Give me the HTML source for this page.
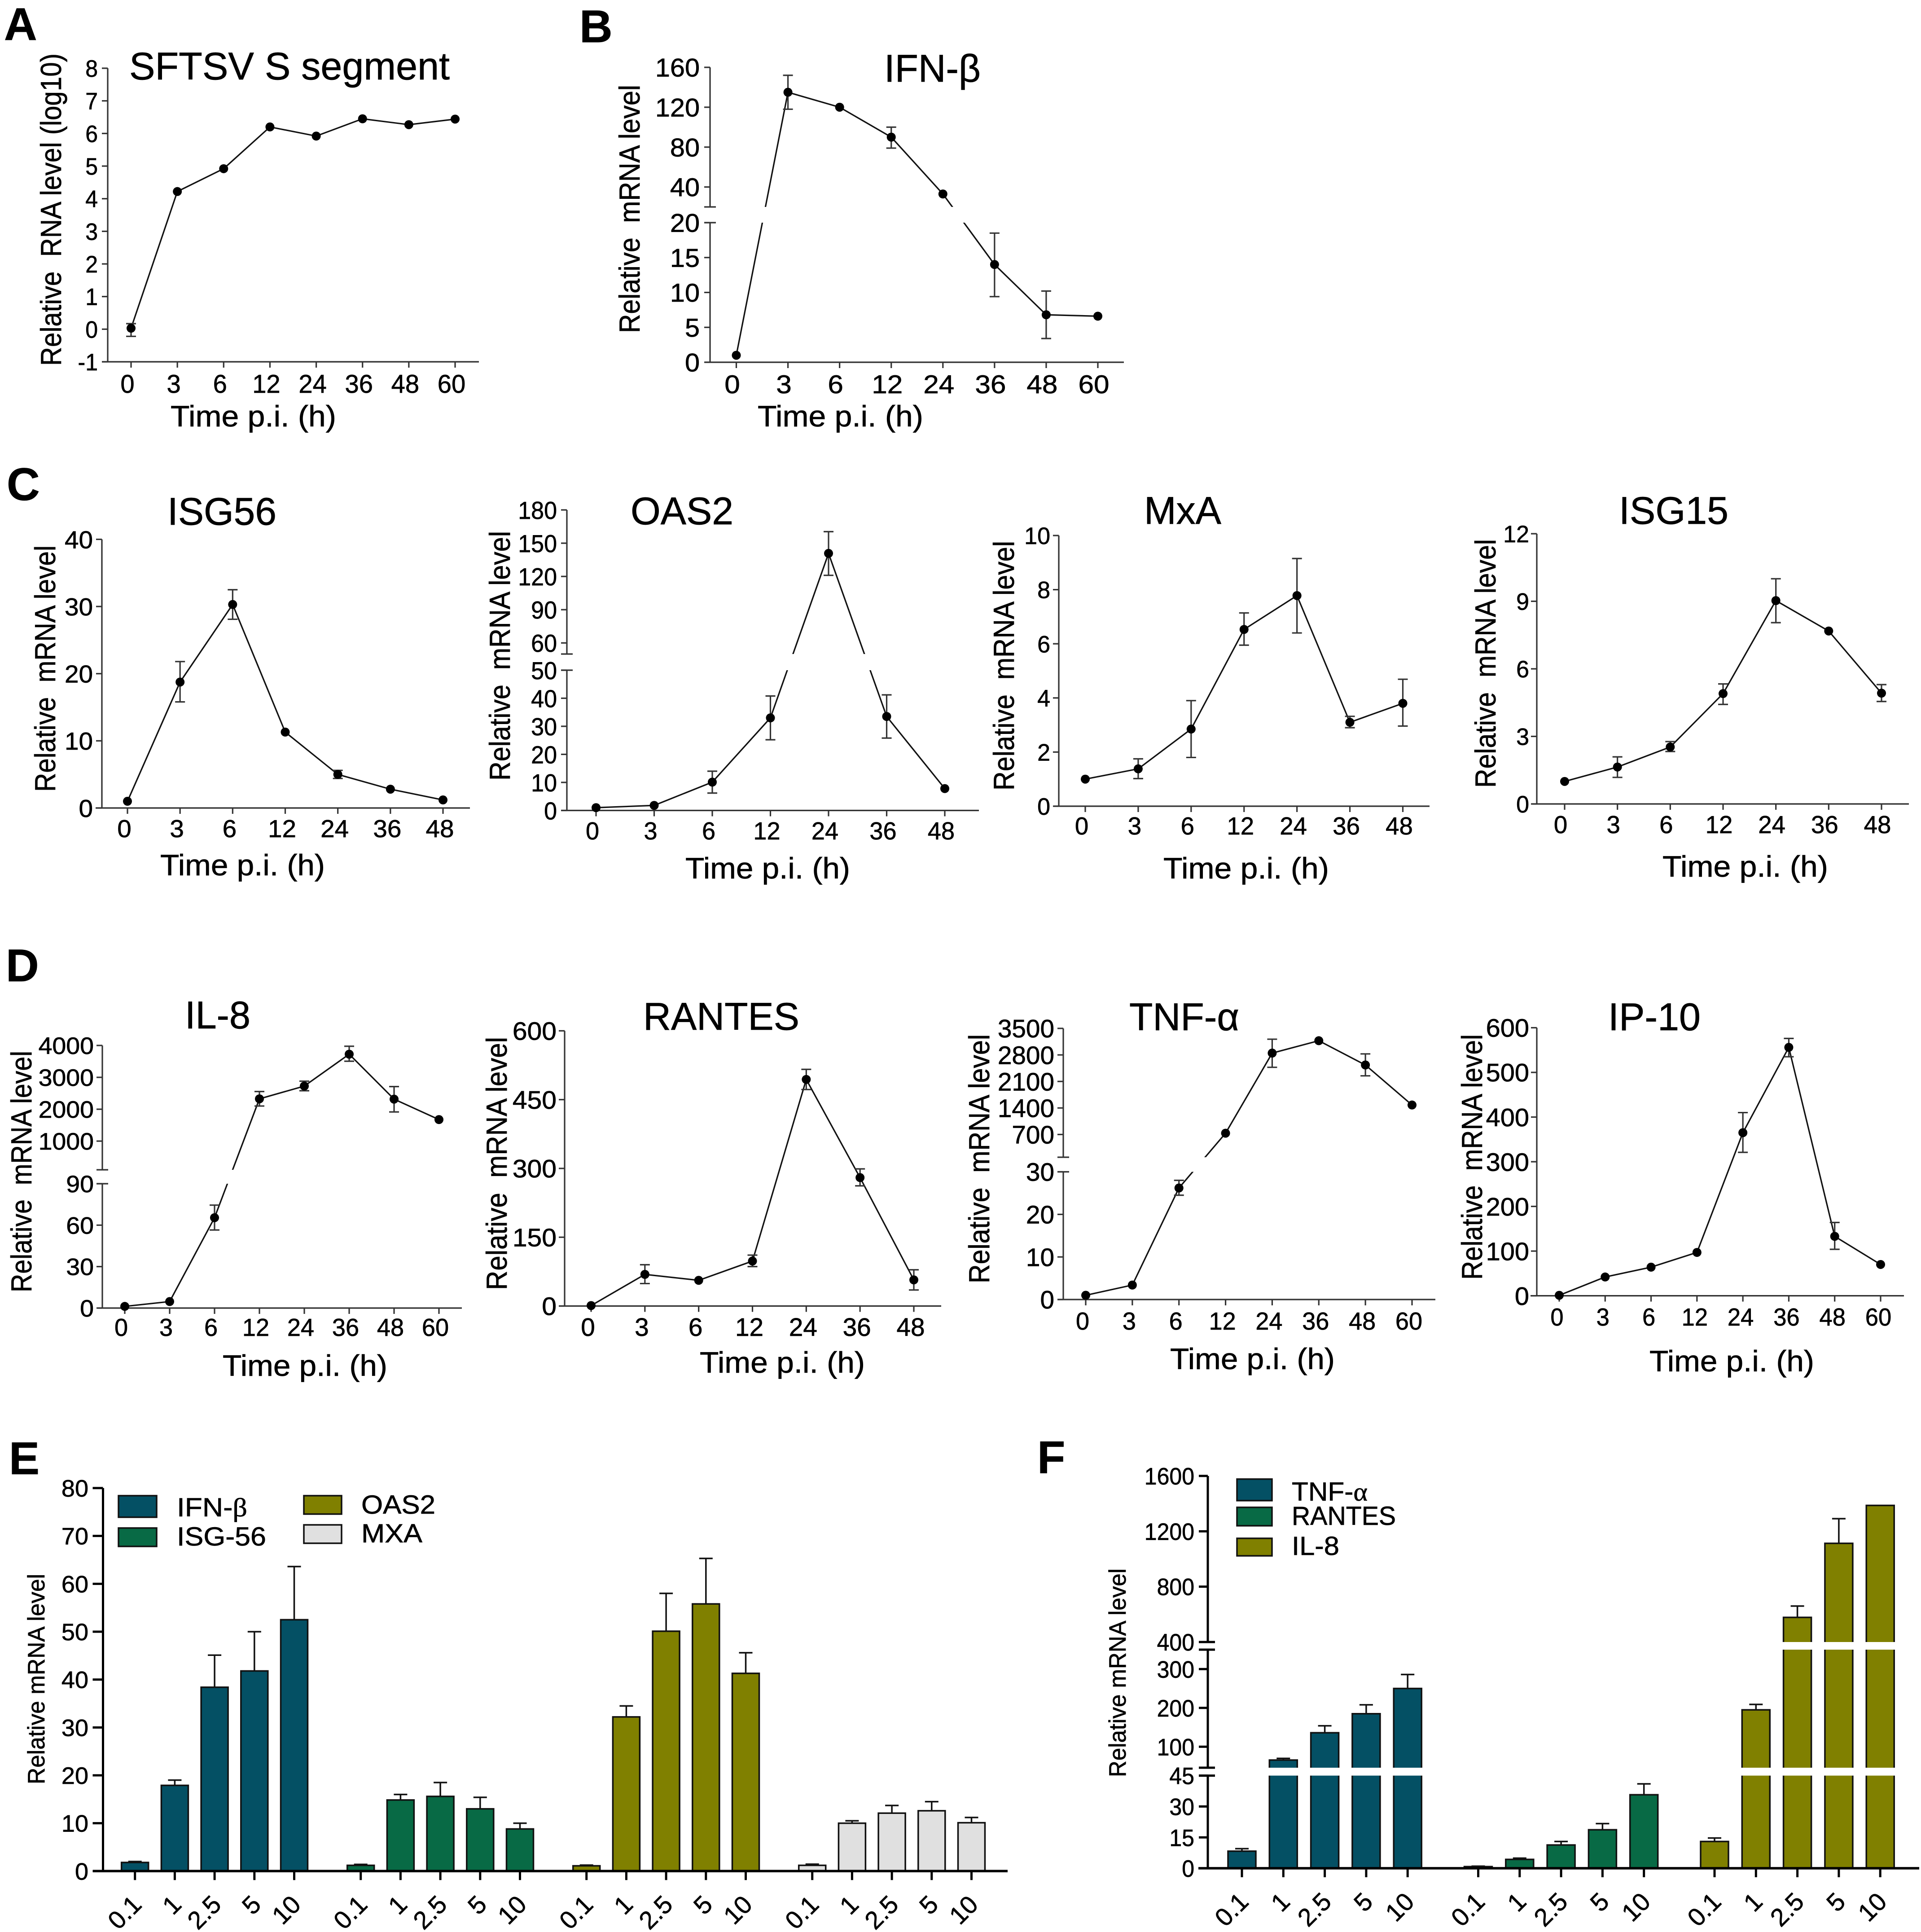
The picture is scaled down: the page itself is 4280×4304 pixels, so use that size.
<!DOCTYPE html>
<html lang="en">
<head>
<meta charset="utf-8">
<title>SFTSV infection time course and dose response panels</title>
<style>
html,body{margin:0;padding:0;background:#fff;}
svg{display:block;}
text{font-family:"Liberation Sans",Arial,sans-serif;fill:#000;white-space:pre;stroke:#000;stroke-width:.7px;}
.letter{font-size:102px;font-weight:bold;}
.title{font-size:86px;}
.xt{font-size:66px;}
.yt{font-size:65px;}
.yb{font-size:53px;}
.lg{font-size:58px;}
.greek{font-family:"Liberation Serif",serif;}
</style>
</head>
<body>
<svg id="fig" width="4280" height="4304" viewBox="0 0 4280 4304">
<rect width="4280" height="4304" fill="#fff"/>

<g id="panelA"></g>
<g id="panelB"></g>
<g id="panelC1"></g>
<g id="panelC2"></g>
<g id="panelC3"></g>
<g id="panelC4"></g>
<g id="panelD1"></g>
<g id="panelD2"></g>
<g id="panelD3"></g>
<g id="panelD4"></g>
<g id="panelE"></g>
<g id="panelF"></g>

<text class="letter" x="9" y="89">A</text>
<text class="letter" x="1291" y="94">B</text>
<text class="letter" x="15" y="1114">C</text>
<text class="letter" x="13" y="2186">D</text>
<text class="letter" x="20" y="3284">E</text>
<text class="letter" x="2311" y="3282">F</text>

<text class="title" x="288" y="177" textLength="714" lengthAdjust="spacingAndGlyphs">SFTSV S segment</text>
<text class="title" x="1970" y="182" textLength="215" lengthAdjust="spacingAndGlyphs">IFN-β</text>
<text class="title" x="373" y="1169" textLength="243" lengthAdjust="spacingAndGlyphs">ISG56</text>
<text class="title" x="1405" y="1168" textLength="229" lengthAdjust="spacingAndGlyphs">OAS2</text>
<text class="title" x="2549" y="1167" textLength="172" lengthAdjust="spacingAndGlyphs">MxA</text>
<text class="title" x="3607" y="1167" textLength="244" lengthAdjust="spacingAndGlyphs">ISG15</text>
<text class="title" x="412" y="2291" textLength="146" lengthAdjust="spacingAndGlyphs">IL-8</text>
<text class="title" x="1433" y="2294" textLength="348" lengthAdjust="spacingAndGlyphs">RANTES</text>
<text class="title" x="2516" y="2295" textLength="245" lengthAdjust="spacingAndGlyphs">TNF-α</text>
<text class="title" x="3583" y="2295" textLength="206" lengthAdjust="spacingAndGlyphs">IP-10</text>

<text class="xt" x="380" y="950" textLength="369" lengthAdjust="spacingAndGlyphs">Time p.i. (h)</text>
<text class="xt" x="1688" y="950" textLength="369" lengthAdjust="spacingAndGlyphs">Time p.i. (h)</text>
<text class="xt" x="357" y="1950" textLength="367" lengthAdjust="spacingAndGlyphs">Time p.i. (h)</text>
<text class="xt" x="1527" y="1957" textLength="367" lengthAdjust="spacingAndGlyphs">Time p.i. (h)</text>
<text class="xt" x="2592" y="1957" textLength="369" lengthAdjust="spacingAndGlyphs">Time p.i. (h)</text>
<text class="xt" x="3704" y="1953" textLength="369" lengthAdjust="spacingAndGlyphs">Time p.i. (h)</text>
<text class="xt" x="496" y="3065" textLength="367" lengthAdjust="spacingAndGlyphs">Time p.i. (h)</text>
<text class="xt" x="1559" y="3058" textLength="368" lengthAdjust="spacingAndGlyphs">Time p.i. (h)</text>
<text class="xt" x="2607" y="3050" textLength="367" lengthAdjust="spacingAndGlyphs">Time p.i. (h)</text>
<text class="xt" x="3675" y="3055" textLength="367" lengthAdjust="spacingAndGlyphs">Time p.i. (h)</text>

<text class="yt" transform="translate(136,815) rotate(-90)" textLength="696" lengthAdjust="spacingAndGlyphs">Relative  RNA level (log10)</text>
<text class="yt" transform="translate(1425,742) rotate(-90)" textLength="553" lengthAdjust="spacingAndGlyphs">Relative  mRNA level</text>
<text class="yt" transform="translate(123,1764) rotate(-90)" textLength="549" lengthAdjust="spacingAndGlyphs">Relative  mRNA level</text>
<text class="yt" transform="translate(1136,1739) rotate(-90)" textLength="556" lengthAdjust="spacingAndGlyphs">Relative  mRNA level</text>
<text class="yt" transform="translate(2259,1761) rotate(-90)" textLength="556" lengthAdjust="spacingAndGlyphs">Relative  mRNA level</text>
<text class="yt" transform="translate(3332,1755) rotate(-90)" textLength="554" lengthAdjust="spacingAndGlyphs">Relative  mRNA level</text>
<text class="yt" transform="translate(70,2879) rotate(-90)" textLength="538" lengthAdjust="spacingAndGlyphs">Relative  mRNA level</text>
<text class="yt" transform="translate(1129,2874) rotate(-90)" textLength="564" lengthAdjust="spacingAndGlyphs">Relative  mRNA level</text>
<text class="yt" transform="translate(2204,2859) rotate(-90)" textLength="555" lengthAdjust="spacingAndGlyphs">Relative  mRNA level</text>
<text class="yt" transform="translate(3302,2851) rotate(-90)" textLength="547" lengthAdjust="spacingAndGlyphs">Relative  mRNA level</text>
<text class="yb" transform="translate(99,3975) rotate(-90)" textLength="469" lengthAdjust="spacingAndGlyphs">Relative mRNA level</text>
<text class="yb" transform="translate(2508,3959) rotate(-90)" textLength="465" lengthAdjust="spacingAndGlyphs">Relative mRNA level</text>

<g>
  <g>
    <rect x="264" y="3332" width="85" height="48" fill="#045064" stroke="#111" stroke-width="3.5"/>
    <text class="lg" x="394" y="3378" textLength="157" lengthAdjust="spacingAndGlyphs">IFN-<tspan class="greek">β</tspan></text>
  </g>
  <g>
    <rect x="264" y="3404" width="85" height="41" fill="#086a45" stroke="#111" stroke-width="3.5"/>
    <text class="lg" x="394" y="3443" textLength="199" lengthAdjust="spacingAndGlyphs">ISG-56</text>
  </g>
  <g>
    <rect x="677" y="3332" width="84" height="41" fill="#808000" stroke="#111" stroke-width="3.5"/>
    <text class="lg" x="805" y="3372" textLength="165" lengthAdjust="spacingAndGlyphs">OAS2</text>
  </g>
  <g>
    <rect x="677" y="3397" width="84" height="41" fill="#e0e0e0" stroke="#111" stroke-width="3.5"/>
    <text class="lg" x="805" y="3436" textLength="136" lengthAdjust="spacingAndGlyphs">MXA</text>
  </g>
</g>
<g>
  <g>
    <rect x="2756" y="3295" width="78" height="48" fill="#045064" stroke="#111" stroke-width="3.5"/>
    <text class="lg" x="2878" y="3343" textLength="169" lengthAdjust="spacingAndGlyphs">TNF-<tspan class="greek">α</tspan></text>
  </g>
  <g>
    <rect x="2756" y="3358" width="78" height="41" fill="#086a45" stroke="#111" stroke-width="3.5"/>
    <text class="lg" x="2878" y="3397" textLength="232" lengthAdjust="spacingAndGlyphs">RANTES</text>
  </g>
  <g>
    <rect x="2756" y="3427" width="78" height="39" fill="#808000" stroke="#111" stroke-width="3.5"/>
    <text class="lg" x="2878" y="3464" textLength="106" lengthAdjust="spacingAndGlyphs">IL-8</text>
  </g>
</g>
</svg>

<script>
// ---------- Data ----------
const hours8 = ['0','3','6','12','24','36','48','60'];
const hours7 = ['0','3','6','12','24','36','48'];

const aValues = [0.03,4.22,4.92,6.2,5.92,6.45,6.27,6.44];
const aErrHigh = [0.17,null,null,null,null,null,null,null];
const aErrLow = [-0.22,null,null,null,null,null,null,null];
const aTicks = [-1,0,1,2,3,4,5,6,7,8];

const bValues = [1,135,120,90,33,14,6.8,6.6];
const bErrHigh = [null,152,null,100,null,18.5,10.2,null];
const bErrLow = [null,118,null,79,null,9.4,3.4,null];
const bTicks = [0,5,10,15,20,40,80,120,160];

const isg56Values = [1,18.75,30.3,11.3,5,2.8,1.2];
const isg56ErrHigh = [null,21.8,32.5,null,5.6,null,null];
const isg56ErrLow = [null,15.8,28.1,null,4.4,null,null];
const isg56Ticks = [0,10,20,30,40];

const oas2Values = [1,1.8,10.1,33,140.8,33.5,7.8];
const oas2ErrHigh = [null,null,14,40.8,160.4,41.2,null];
const oas2ErrLow = [null,null,6.2,25.2,121,25.8,null];
const oas2Ticks = [0,10,20,30,40,50,60,90,120,150,180];

const mxaValues = [1,1.38,2.85,6.53,7.78,3.1,3.8];
const mxaErrHigh = [null,1.75,3.9,7.14,9.15,3.32,4.69];
const mxaErrLow = [null,1.02,1.8,5.95,6.4,2.9,2.96];
const mxaTicks = [0,2,4,6,8,10];

const isg15Values = [1,1.64,2.53,4.9,9.03,7.68,4.92];
const isg15ErrHigh = [null,2.09,2.77,5.33,10,null,5.3];
const isg15ErrLow = [null,1.18,2.33,4.42,8.05,null,4.55];
const isg15Ticks = [0,3,6,9,12];

const il8Values = [1.2,4.7,65.4,2325,2726,3726,2316,1675];
const il8ErrHigh = [null,null,74.5,2555,2880,3975,2710,null];
const il8ErrLow = [null,null,56.5,2100,2580,3505,1915,null];
const il8Ticks = [0,30,60,90,1000,2000,3000,4000];

const rantesValues = [1,69,56,98,494,280,57];
const rantesErrHigh = [null,90,null,111,516,299,79];
const rantesErrLow = [null,49,null,86,472,262,35];
const rantesTicks = [0,150,300,450,600];

const tnfValues = [1,3.4,26.2,734,2848,3175,2534,1478];
const tnfErrHigh = [null,null,28,null,3215,null,2827,null];
const tnfErrLow = [null,null,24.5,null,2473,null,2248,null];
const tnfTicks = [0,10,20,30,700,1400,2100,2800,3500];

const ip10Values = [1,42,64,97,365,556,133,70];
const ip10ErrHigh = [null,null,null,null,410,576,164,null];
const ip10ErrLow = [null,null,null,null,321,535,104,null];
const ip10Ticks = [0,100,200,300,400,500,600];

const doses = ['0.1','1','2.5','5','10'];

const eIfnValues = [1.8,17.9,38.4,41.8,52.5];
const eIfnErr = [2,19,45.1,50,63.6];
const eIsgValues = [1.2,14.85,15.6,13,8.8];
const eIsgErr = [1.4,16,18.5,15.4,10];
const eOasValues = [1.1,32.2,50.1,55.8,41.3];
const eOasErr = [1.25,34.5,58,65.3,45.6];
const eMxaValues = [1.2,10,12.1,12.6,10.1];
const eMxaErr = [1.45,10.5,13.7,14.5,11.2];
const eTicks = [0,10,20,30,40,50,60,70,80];

const fTnfValues = [8.3,65.7,136,185,250];
const fTnfErr = [9.5,70,154,208,286];
const fRantesValues = [0.8,4.3,11.3,18.7,35.7];
const fRantesErr = [1,4.9,13,21.7,41];
const fIl8Values = [13,195,578,1113,1387];
const fIl8Err = [14.7,209,660,1291,null];
const fTicks = [0,15,30,45,100,200,300,400,800,1200,1600];

// ---------- Drawing helpers ----------
const svg = document.getElementById('fig');
const INK = '#111';
const GROW = 1.06;

function mk(parent, type, attrs) {
  const el = document.createElementNS(svg.namespaceURI, type);
  for (const k in attrs) el.setAttribute(k, attrs[k]);
  parent.appendChild(el);
  return el;
}

function makeY(segs) {
  return function (v) {
    for (let i = 0; i < segs.length; i++) {
      const s = segs[i];
      if (v <= s.d[1] || i === segs.length - 1) {
        return s.r[0] + (v - s.d[0]) / (s.d[1] - s.d[0]) * (s.r[1] - s.r[0]);
      }
    }
  };
}

function yAxis(root, c, y, width) {
  c.segs.forEach(function (s, i) {
    const spine = mk(root, 'line', {x1: c.axisX, x2: c.axisX, y1: s.r[0], y2: s.r[1], stroke: c.axisColor, 'stroke-width': width});
    
    
    if (i < c.segs.length - 1) {
      const next = c.segs[i + 1];
      [s.r[1], next.r[0]].forEach(function (py) {
        const cap = mk(root, 'line', {x1: c.axisX - c.tick, x2: c.axisX + c.capR, y1: py, y2: py, stroke: c.axisColor, 'stroke-width': width});
        
        
      });
    }
  });
  const fs = c.fsY * GROW;
  c.yTicks.forEach(function (v) {
    const py = y(v);
    const t = mk(root, 'line', {x1: c.axisX - c.tick, x2: c.axisX, y1: py, y2: py, stroke: c.axisColor, 'stroke-width': width});
    
    
    const lab = mk(root, 'text', {'text-anchor': 'end', 'font-size': fs,
      transform: 'translate(' + c.labelRight + ',' + (py + fs * 0.36) + ') scale(' + (c.hsY / GROW) + ',1)'});
    lab.textContent = String(v);
    
    
  });
}

function breakBands(root, c, inset) {
  for (let i = 0; i < c.segs.length - 1; i++) {
    const upperBottom = c.segs[i + 1].r[0];
    const lowerTop = c.segs[i].r[1];
    const band = mk(root, 'rect', {x: c.axisX + inset, y: upperBottom, width: c.xRight - c.axisX - inset + 4,
      height: lowerTop - upperBottom, fill: '#fff'});
    
    
  }
}

function drawLineChart(c) {
  const root = document.getElementById(c.id);
  c.axisColor = '#333';
  c.tick = 13;
  c.capR = 13;
  const y = makeY(c.segs);
  const n = c.cats.length;
  const x = function (i) { return c.x0 + i * (c.xN - c.x0) / (n - 1); };

  const line = mk(root, 'polyline', {
    points: c.values.map(function (v, i) { return x(i) + ',' + y(v); }).join(' '),
    fill: 'none', stroke: INK, 'stroke-width': 3.2
  });
  
  
  breakBands(root, c, 14);

  const yBottom = y(c.segs[0].d[0]);
  const xLine = mk(root, 'line', {x1: c.xLeft, x2: c.xRight, y1: yBottom, y2: yBottom, stroke: c.axisColor, 'stroke-width': 3.2});
  
  
  yAxis(root, c, y, 3.2);

  const fsX = c.fsX * GROW;
  c.cats.forEach(function (cat, i) {
    const px = x(i);
    const t = mk(root, 'line', {x1: px, x2: px, y1: yBottom, y2: yBottom + 13, stroke: c.axisColor, 'stroke-width': 3.2});
    
    
    const lab = mk(root, 'text', {'text-anchor': 'middle', 'font-size': fsX,
      transform: 'translate(' + (px + c.labelDx) + ',' + (c.xLabelY + 1) + ') scale(' + (c.hsX / GROW) + ',1)'});
    lab.textContent = cat;
    
    

    if (c.hi[i] !== null) {
      const yh = y(c.hi[i]), yl = y(c.lo[i]);
      const err = mk(root, 'path', {
        d: 'M' + (px - 11) + ' ' + yh + 'H' + (px + 11) + 'M' + px + ' ' + yh + 'V' + yl + 'M' + (px - 11) + ' ' + yl + 'H' + (px + 11),
        fill: 'none', stroke: c.axisColor, 'stroke-width': 3.2
      });
      
      
    }
    const dot = mk(root, 'circle', {cx: px, cy: y(c.values[i]), r: 10, fill: '#000'});
    
    
  });
}

function drawBarChart(c) {
  const root = document.getElementById(c.id);
  c.axisColor = '#000';
  c.capR = 16;
  const y = makeY(c.segs);
  const yBottom = y(c.segs[0].d[0]);

  c.series.forEach(function (s, g) {
    s.values.forEach(function (v, j) {
      const px = c.x0 + g * c.groupStep + j * c.barStep;
      if (s.err[j] !== null) {
        const et = y(s.err[j]);
        const eb = mk(root, 'path', {
          d: 'M' + (px - 15) + ' ' + et + 'H' + (px + 15) + 'M' + px + ' ' + et + 'V' + y(v),
          fill: 'none', stroke: INK, 'stroke-width': 3.5
        });
        
        
      }
      const top = y(v);
      const bar = mk(root, 'rect', {x: px - c.barW / 2, y: top, width: c.barW, height: yBottom - top,
        fill: s.color, stroke: INK, 'stroke-width': 3.5});
      
      

      const t = mk(root, 'line', {x1: px, x2: px, y1: yBottom, y2: yBottom + 20, stroke: '#000', 'stroke-width': 5});
      
      
      const lab = mk(root, 'text', {'text-anchor': 'end', 'font-size': 56,
        transform: 'translate(' + (px + 18) + ',' + (yBottom + 78) + ') rotate(-45)'});
      lab.textContent = c.cats[j];
      
      
    });
  });
  breakBands(root, c, 18);
  const xLine = mk(root, 'line', {x1: c.xLeft, x2: c.xRight, y1: yBottom, y2: yBottom, stroke: '#000', 'stroke-width': 5.5});
  
  
  yAxis(root, c, y, 5);
}

// ---------- Panels ----------
drawLineChart({id:'panelA',cats:hours8,values:aValues,hi:aErrHigh,lo:aErrLow,yTicks:aTicks,
  segs:[{d:[-1,8],r:[806,152]}],axisX:240,x0:292,xN:1014,xLeft:227,xRight:1067,labelRight:218,xLabelY:874,labelDx:-8,fsY:50,hsY:1,fsX:54,hsX:1.04});
drawLineChart({id:'panelB',cats:hours8,values:bValues,hi:bErrHigh,lo:bErrLow,yTicks:bTicks,
  segs:[{d:[0,20],r:[807,496]},{d:[20,160],r:[461,150]}],axisX:1582,x0:1640.5,xN:2446,xLeft:1570,xRight:2504,labelRight:1559,xLabelY:875,labelDx:-9,fsY:54,hsY:1.1,fsX:54,hsX:1.15});
drawLineChart({id:'panelC1',cats:hours7,values:isg56Values,hi:isg56ErrHigh,lo:isg56ErrLow,yTicks:isg56Ticks,
  segs:[{d:[0,40],r:[1800,1201.5]}],axisX:227,x0:284,xN:987,xLeft:213,xRight:1047,labelRight:207,xLabelY:1864,labelDx:-7,fsY:52,hsY:1.09,fsX:52,hsX:1.09});
drawLineChart({id:'panelC2',cats:hours7,values:oas2Values,hi:oas2ErrHigh,lo:oas2ErrLow,yTicks:oas2Ticks,
  segs:[{d:[0,50],r:[1805.5,1493]},{d:[50,180],r:[1457,1136]}],axisX:1263,x0:1328,xN:2105,xLeft:1250,xRight:2181,labelRight:1241,xLabelY:1869,labelDx:-8,fsY:52,hsY:1,fsX:52,hsX:1.04});
drawLineChart({id:'panelC3',cats:hours7,values:mxaValues,hi:mxaErrHigh,lo:mxaErrLow,yTicks:mxaTicks,
  segs:[{d:[0,10],r:[1796,1193]}],axisX:2359,x0:2418,xN:3125.5,xLeft:2348,xRight:3185,labelRight:2340,xLabelY:1858,labelDx:-8,fsY:50,hsY:1.04,fsX:52,hsX:1.05});
drawLineChart({id:'panelC4',cats:hours7,values:isg15Values,hi:isg15ErrHigh,lo:isg15ErrLow,yTicks:isg15Ticks,
  segs:[{d:[0,12],r:[1791,1189]}],axisX:3424,x0:3486,xN:4192,xLeft:3414,xRight:4253,labelRight:3407,xLabelY:1855,labelDx:-9,fsY:50,hsY:1.04,fsX:52,hsX:1.05});
drawLineChart({id:'panelD1',cats:hours8,values:il8Values,hi:il8ErrHigh,lo:il8ErrLow,yTicks:il8Ticks,
  segs:[{d:[0,90],r:[2914,2637]},{d:[100,4000],r:[2606,2329]}],axisX:228,x0:278,xN:978,xLeft:218,xRight:1029,labelRight:209,xLabelY:2975,labelDx:-8,fsY:50,hsY:1.11,fsX:52,hsX:1.04});
drawLineChart({id:'panelD2',cats:hours7,values:rantesValues,hi:rantesErrHigh,lo:rantesErrLow,yTicks:rantesTicks,
  segs:[{d:[0,600],r:[2909.5,2296.4]}],axisX:1258,x0:1317,xN:2036,xLeft:1245,xRight:2097,labelRight:1240,xLabelY:2975,labelDx:-7,fsY:53,hsY:1.11,fsX:53,hsX:1.07});
drawLineChart({id:'panelD3',cats:hours8,values:tnfValues,hi:tnfErrHigh,lo:tnfErrLow,yTicks:tnfTicks,
  segs:[{d:[0,30],r:[2895,2610.5]},{d:[100,3500],r:[2578,2291]}],axisX:2369,x0:2419,xN:3146,xLeft:2356,xRight:3198,labelRight:2349,xLabelY:2961,labelDx:-7,fsY:53,hsY:1.07,fsX:52,hsX:1.04});
drawLineChart({id:'panelD4',cats:hours8,values:ip10Values,hi:ip10ErrHigh,lo:ip10ErrLow,yTicks:ip10Ticks,
  segs:[{d:[0,600],r:[2886.6,2289.5]}],axisX:3424,x0:3474,xN:4190,xLeft:3410,xRight:4242,labelRight:3407,xLabelY:2952,labelDx:-5,fsY:53,hsY:1.09,fsX:52,hsX:1.01});

drawBarChart({id:'panelE',cats:doses,yTicks:eTicks,
  series:[{values:eIfnValues,err:eIfnErr,color:'#045064'},{values:eIsgValues,err:eIsgErr,color:'#086a45'},
          {values:eOasValues,err:eOasErr,color:'#808000'},{values:eMxaValues,err:eMxaErr,color:'#e0e0e0'}],
  segs:[{d:[0,80],r:[4168.3,3315]}],axisX:229.5,x0:300.7,groupStep:503,barStep:88.7,barW:60,xLeft:207,xRight:2245,labelRight:197,tick:23,fsY:50,hsY:1.08});
drawBarChart({id:'panelF',cats:doses,yTicks:fTicks,
  series:[{values:fTnfValues,err:fTnfErr,color:'#045064'},{values:fRantesValues,err:fRantesErr,color:'#086a45'},
          {values:fIl8Values,err:fIl8Err,color:'#808000'}],
  segs:[{d:[0,45],r:[4162,3955.6]},{d:[46,350],r:[3938,3675]},{d:[400,1600],r:[3658,3288]}],axisX:2691,x0:2767,groupStep:526.5,barStep:92.3,barW:62,xLeft:2670,xRight:4276,labelRight:2661,tick:20,fsY:50,hsY:1});
</script>
</body>
</html>
